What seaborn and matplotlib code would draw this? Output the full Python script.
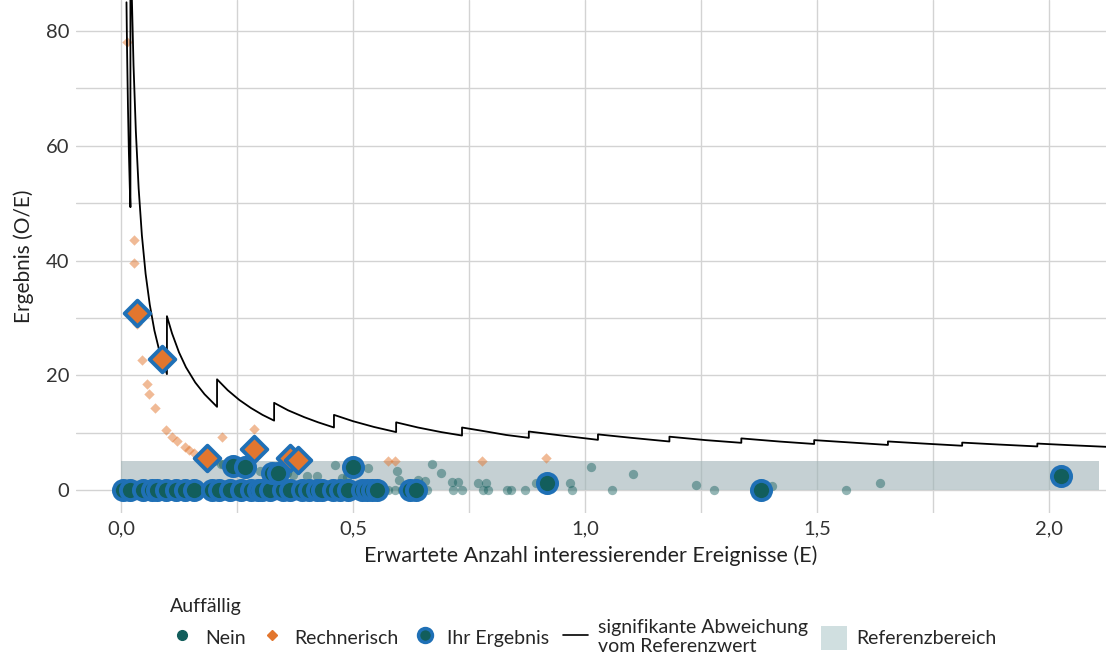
import pandas as pd
import seaborn as sns
import matplotlib.pyplot as plt
from matplotlib.lines import Line2D
from matplotlib.patches import Patch

sns.set_theme(style="whitegrid")
plt.rcParams['font.family'] = ['Lato', 'DejaVu Sans']

# ----- data -----
# other hospitals, Auffällig = Nein
nein_x = [0.03, 0.06, 0.11, 0.17, 0.25, 0.31, 0.34, 0.40, 0.44, 0.48, 0.504, 0.51,
          0.57, 0.575, 0.59, 0.605, 0.61, 0.66, 0.716, 0.735, 0.78, 0.79, 0.832,
          0.84, 0.871, 0.972, 1.058, 1.278, 1.562,
          0.20, 0.215, 0.22, 0.23, 0.25, 0.27, 0.30, 0.315, 0.358, 0.371, 0.40,
          0.422, 0.461, 0.476, 0.487, 0.532, 0.594, 0.60, 0.64, 0.655, 0.67, 0.69,
          0.713, 0.726, 0.77, 0.786, 0.894, 0.968, 1.013, 1.103, 1.239, 1.403, 1.636]
nein_y = [0, 0, 0, 0, 0, 0, 0, 0, 0, 0, 0, 0,
          0, 0, 0, 0, 0, 0, 0, 0, 0, 0, 0,
          0, 0, 0, 0, 0, 0,
          5.0, 4.6, 4.6, 4.4, 4.0, 3.7, 3.4, 3.1, 2.9, 2.7, 2.5,
          2.4, 4.4, 2.1, 2.2, 3.8, 3.3, 1.7, 1.7, 1.6, 4.5, 2.9,
          1.4, 1.4, 1.3, 1.3, 1.2, 1.2, 4.0, 2.8, 0.9, 0.7, 1.2]

# other hospitals, Auffällig = Rechnerisch
rech_x = [0.012, 0.027, 0.028, 0.035, 0.045, 0.057, 0.061, 0.073, 0.098, 0.11,
          0.121, 0.138, 0.146, 0.157, 0.17, 0.218, 0.287, 0.575, 0.59, 0.778, 0.916]
rech_y = [78, 43.5, 39.5, 29, 22.6, 18.4, 16.8, 14.3, 10.5, 9.3,
          8.5, 7.5, 7.0, 6.5, 6.0, 9.3, 10.6, 5.0, 5.0, 5.0, 5.6]

# own results (Ihr Ergebnis), not conspicuous
ihr_x = [0.004, 0.019, 0.047, 0.067, 0.078, 0.097, 0.118, 0.138, 0.157, 0.196,
         0.211, 0.235, 0.259, 0.28, 0.295, 0.304, 0.321, 0.349, 0.364, 0.39,
         0.405, 0.422, 0.433, 0.457, 0.472, 0.489, 0.519, 0.53, 0.541, 0.552,
         0.623, 0.636, 1.379,
         0.241, 0.267, 0.325, 0.338, 0.5, 0.918, 2.026]
ihr_y = [0] * 33 + [4.2, 4.0, 3.0, 3.0, 4.0, 1.2, 2.4]

# own results (Ihr Ergebnis), rechnerisch auffällig
ihr_rech_x = [0.0345, 0.088, 0.185, 0.287, 0.364, 0.381]
ihr_rech_y = [30.8, 22.8, 5.6, 7.1, 5.6, 5.2]

# significance limit (signifikante Abweichung vom Referenzwert)
sig_x = [0.0118, 0.013, 0.015, 0.017, 0.019, 0.0203,
         0.0203, 0.023, 0.027, 0.032, 0.038, 0.045, 0.053, 0.062, 0.072, 0.084, 0.099,
         0.099, 0.11, 0.125, 0.14, 0.16, 0.18, 0.207,
         0.207, 0.23, 0.255, 0.28, 0.305, 0.33,
         0.33, 0.36, 0.395, 0.425, 0.459,
         0.459, 0.50, 0.545, 0.593,
         0.593, 0.64, 0.69, 0.735,
         0.735, 0.78, 0.83, 0.879,
         0.879, 0.95, 1.028,
         1.028, 1.10, 1.182,
         1.182, 1.26, 1.337,
         1.337, 1.42, 1.494,
         1.494, 1.57, 1.653,
         1.653, 1.73, 1.813,
         1.813, 1.89, 1.975,
         1.975, 2.05, 2.13]
sig_y = [85, 77, 66.7, 58.8, 52.6, 49.3,
         98, 87, 74, 62.5, 52.6, 44.4, 37.7, 32.3, 27.8, 23.8, 20.2,
         30.3, 27.3, 24, 21.4, 18.75, 16.7, 14.5,
         19.3, 17.4, 15.7, 14.3, 13.1, 12.1,
         15.2, 13.9, 12.7, 11.8, 10.9,
         13.1, 12.0, 11.0, 10.1,
         11.8, 10.9, 10.1, 9.5,
         10.9, 10.3, 9.6, 9.1,
         10.2, 9.5, 8.75,
         9.7, 9.1, 8.46,
         9.3, 8.7, 8.23,
         9.0, 8.45, 8.03,
         8.7, 8.3, 7.86,
         8.47, 8.1, 7.72,
         8.27, 7.94, 7.6,
         8.1, 7.8, 7.51]

# reference range (Referenzbereich)
ref_x = [0, 2.108]
ref_lo = 0
ref_hi = 5

x_ticks = [0, 0.5, 1.0, 1.5, 2.0]
x_labels = ["0,0", "0,5", "1,0", "1,5", "2,0"]
y_ticks = [0, 20, 40, 60, 80]

teal = "#125e5c"
orange = "#e2762e"
blue = "#1f70b6"

fig = plt.figure(figsize=(11.06, 6.69), dpi=100)
ax = fig.add_axes([76 / 1106, 1 - 513 / 669, 1 - 76 / 1106, 513 / 669])

# ----- reference band -----
ax.fill_between(ref_x, ref_lo, ref_hi, color="#9fb2b6", alpha=0.6, lw=0, zorder=1)

# ----- points -----
sns.scatterplot(x=nein_x, y=nein_y, ax=ax, color=teal, alpha=0.45, s=45,
                linewidth=0, zorder=2)
sns.scatterplot(x=rech_x, y=rech_y, ax=ax, color=orange, alpha=0.5, s=28,
                marker="D", linewidth=0, zorder=2)

# ----- significance line -----
sig = pd.DataFrame({"E": sig_x, "OE": sig_y})
sns.lineplot(data=sig, x="E", y="OE", ax=ax, sort=False, estimator=None,
             color="black", lw=1.3, zorder=3)

# ----- own results -----
sns.scatterplot(x=ihr_x, y=ihr_y, ax=ax, color=teal, s=190, edgecolor=blue,
                linewidth=2.8, zorder=4)
sns.scatterplot(x=ihr_rech_x, y=ihr_rech_y, ax=ax, color=orange, s=170,
                marker="D", edgecolor=blue, linewidth=2.8, zorder=5)

# ----- axes -----
ax.set_xlim(-0.097, 2.123)
ax.set_ylim(-4, 85.4)
ax.set_xticks(x_ticks)
ax.set_xticklabels(x_labels)
ax.set_yticks(y_ticks)
ax.set_xticks([0.25, 0.75, 1.25, 1.75], minor=True)
ax.set_yticks([10, 30, 50, 70], minor=True)
ax.grid(which="both", color="#d3d3d3", lw=1)
ax.set_axisbelow(True)
for s in ax.spines.values():
    s.set_visible(False)
ax.tick_params(which="both", length=0, labelsize=14.5, colors="#333333", pad=5)
ax.set_xlabel("Erwartete Anzahl interessierender Ereignisse (E)", fontsize=15.5,
              color="#222222", labelpad=6)
ax.set_ylabel("Ergebnis (O/E)", fontsize=15, color="#222222", labelpad=8)

# ----- legend -----
handles = [
    Line2D([], [], ls="", marker="o", ms=7, color=teal),
    Line2D([], [], ls="", marker="D", ms=5, color=orange),
    Line2D([], [], ls="", marker="o", ms=10, color=teal, mec=blue, mew=2.5),
    Line2D([], [], color="black", lw=1.2),
    Patch(facecolor="#d0dfe0", edgecolor="none"),
]
labels = ["Nein", "Rechnerisch", "Ihr Ergebnis",
          "signifikante Abweichung\nvom Referenzwert", "Referenzbereich"]
fig.legend(handles, labels, loc="upper left", bbox_to_anchor=(162 / 1106, 1 - 590 / 669),
           ncol=5, title="Auffällig", alignment="left", frameon=False,
           fontsize=14, title_fontsize=14, handlelength=1.3, handleheight=1.5,
           handletextpad=0.5, columnspacing=0.7, borderaxespad=0, labelspacing=0.2)

fig.savefig("out.png", dpi=100)
